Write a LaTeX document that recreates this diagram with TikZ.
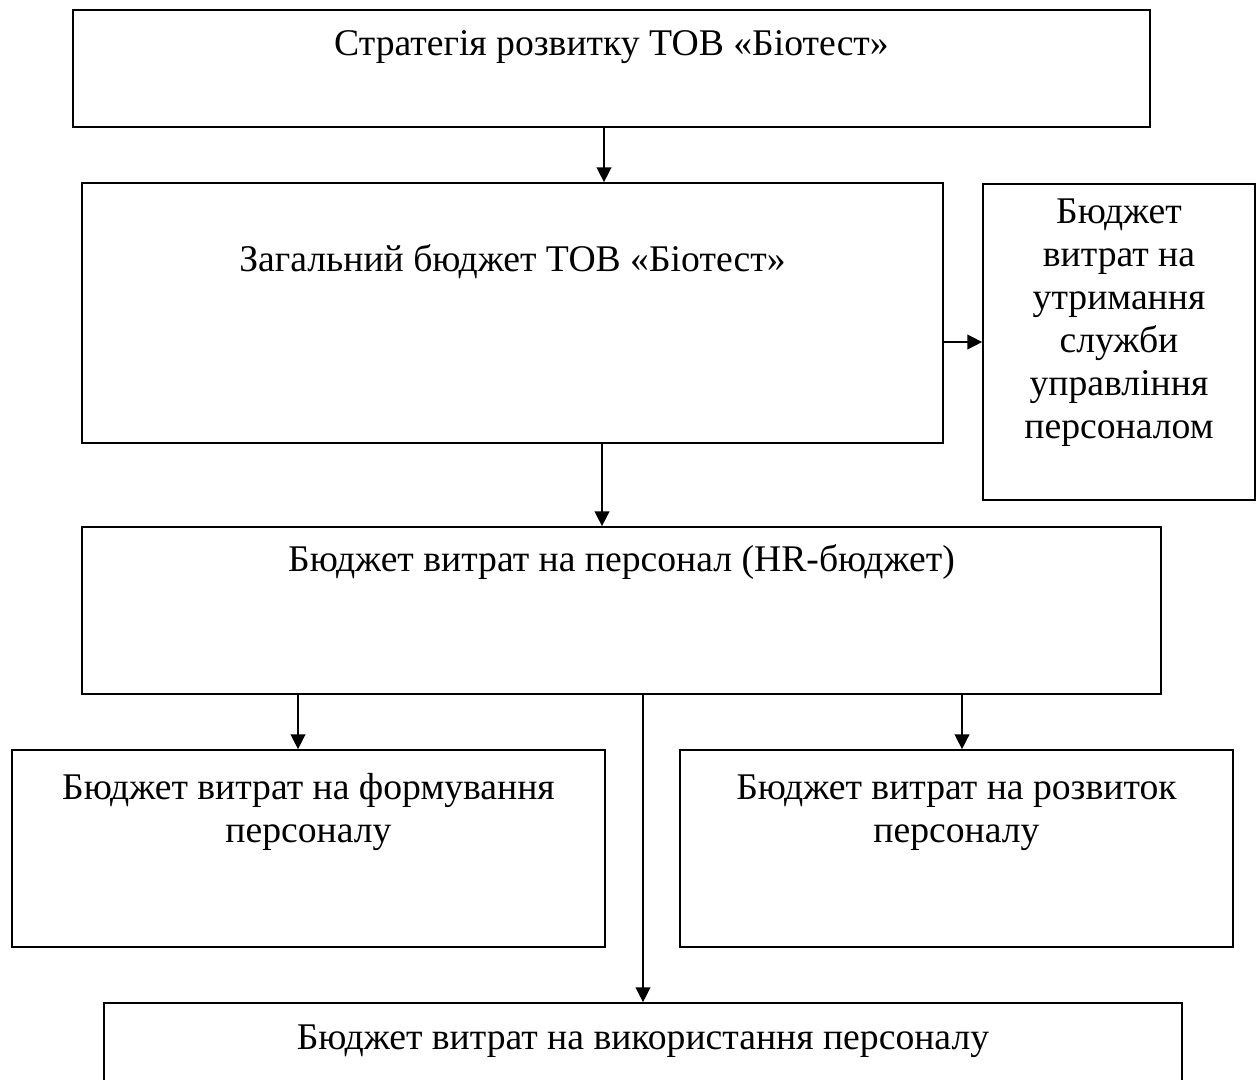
\documentclass[tikz,border=0pt]{standalone}
\usepackage{fontspec}
\setmainfont{Liberation Serif}
\usetikzlibrary{arrows.meta}
\begin{document}
\begin{tikzpicture}[x=0.75pt,y=-0.75pt,
  font=\fontsize{28.25}{32.25}\selectfont,
  box/.style={draw, line width=1.3pt, shape=rectangle, inner sep=0pt},
  txt/.style={anchor=base, align=center, inner sep=0pt},
  arr/.style={-{Triangle[width=11pt,length=11pt]}, line width=1.1pt}]
\useasboundingbox (0,0) rectangle (1259,1079);
\clip (0,0) rectangle (1259,1079);
\node at (611.5,68.5) [box, minimum width=807.75pt, minimum height=87.75pt,
  label={[txt, yshift=-34.5pt]north:{Стратегія розвитку ТОВ «Біотест»}}](strat){};
\node at (512.5,313) [box, minimum width=645.75pt, minimum height=195pt,
  label={[txt, yshift=-66.75pt]north:{Загальний бюджет ТОВ «Біотест»}}](total){};
\node at (1119,342) [box, minimum width=204pt, minimum height=237pt,
  label={[txt, yshift=-191.25pt]north:{Бюджет\\витрат на\\утримання\\служби\\управління\\персоналом}}](staff){};
\node at (621.5,610.5) [box, minimum width=809.25pt, minimum height=125.25pt,
  label={[txt, yshift=-33.75pt]north:{Бюджет витрат на персонал (HR-бюджет)}}](hr){};
\node at (308.5,848.5) [box, minimum width=444.75pt, minimum height=147.75pt,
  label={[txt, yshift=-69.75pt]north:{Бюджет витрат на формування\\персоналу}}](form){};
\node at (956.5,848.5) [box, minimum width=414.75pt, minimum height=147.75pt,
  label={[txt, yshift=-69.75pt]north:{Бюджет витрат на розвиток\\персоналу}}](dev){};
\node at (643,1053) [box, minimum width=808.5pt, minimum height=75pt,
  label={[txt, yshift=-35.25pt]north:{Бюджет витрат на використання персоналу}}](use){};
\draw[arr] ([xshift=-5.625pt]strat.south) -- ([xshift=-5.625pt]strat.south |- total.north);
\draw[arr] ([xshift=67.125pt]total.south) -- ([xshift=67.125pt]total.south |- hr.north);
\draw[arr] (total.east |- staff) -- (staff.west);
\draw[arr] ([xshift=-7.875pt]form.north |- hr.south) -- ([xshift=-7.875pt]form.north);
\draw[arr] ([xshift=4.125pt]dev.north |- hr.south) -- ([xshift=4.125pt]dev.north);
\draw[arr] (use.north |- hr.south) -- (use.north);
\end{tikzpicture}
\end{document}
